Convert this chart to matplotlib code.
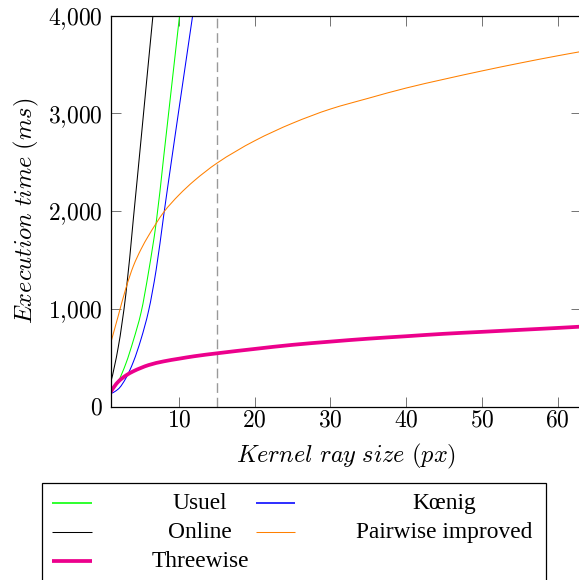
import matplotlib
matplotlib.use('Agg')
import numpy as np
import matplotlib.pyplot as plt
from matplotlib.lines import Line2D
from matplotlib.patches import Rectangle, PathPatch
from matplotlib.path import Path
from matplotlib.ticker import FuncFormatter, FixedLocator

plt.rcParams['mathtext.fontset'] = 'cm'
plt.rcParams['font.family'] = ['Liberation Serif', 'DejaVu Serif']

# ---- data ----
x_usuel = [1, 2, 3, 4, 5, 6, 7, 8, 9, 10, 11]
y_usuel = [153, 260, 440, 680, 960, 1380, 1880, 2560, 3250, 3940, 4630]

x_koenig = [1, 2, 3, 4, 5, 6, 7, 8, 9, 10, 11, 12]
y_koenig = [135, 180, 290, 460, 690, 980, 1400, 1960, 2505, 3040, 3570, 4100]

x_online = [1, 2, 3, 4, 5, 6, 7]
y_online = [250, 610, 1150, 1930, 2730, 3540, 4340]

x_pair = [1, 2, 3, 4, 5, 6, 7, 8, 10, 12, 15, 20, 25, 30, 35, 40, 45, 50, 55, 60, 63]
y_pair = [650, 930, 1210, 1440, 1610, 1750, 1875, 1990, 2165, 2310, 2490, 2720, 2900,
          3045, 3155, 3260, 3350, 3435, 3515, 3590, 3632]

x_three = [1, 2, 3, 4, 5, 6, 8, 10, 12, 15, 20, 25, 30, 35, 40, 45, 50, 55, 60, 63]
y_three = [150, 255, 318, 362, 396, 425, 463, 490, 515, 545, 590, 632, 665, 695,
           720, 745, 765, 785, 805, 818]

labels = ['Usuel', 'Online', 'Threewise', 'Kœnig', 'Pairwise improved']
x_ticks = [10, 20, 30, 40, 50, 60]
y_ticks = [0, 1000, 2000, 3000, 4000]
marker_x = 15

col_usuel = '#00FF00'
col_koenig = '#0000FF'
col_online = '#000000'
col_pair = '#FF8000'
col_three = '#EC008C'


def smooth_path(xs, ys):
    """Smooth (pgfplots-like) curve through the data points, as cubic Bezier segments."""
    x = np.asarray(xs, float)
    y = np.asarray(ys, float)
    h = np.diff(x)
    d = np.diff(y) / h
    n = len(x)
    m = np.zeros(n)
    for i in range(1, n - 1):
        if d[i - 1] * d[i] > 0:
            w1 = 2 * h[i] + h[i - 1]
            w2 = h[i] + 2 * h[i - 1]
            m[i] = (w1 + w2) / (w1 / d[i - 1] + w2 / d[i])
    if n > 2:
        m[0] = ((2 * h[0] + h[1]) * d[0] - h[0] * d[1]) / (h[0] + h[1])
        if m[0] * d[0] <= 0:
            m[0] = 0
        m[-1] = ((2 * h[-1] + h[-2]) * d[-1] - h[-1] * d[-2]) / (h[-1] + h[-2])
        if m[-1] * d[-1] <= 0:
            m[-1] = 0
    else:
        m[:] = d[0]
    verts = [(x[0], y[0])]
    codes = [Path.MOVETO]
    for i in range(n - 1):
        verts += [(x[i] + h[i] / 3, y[i] + m[i] * h[i] / 3),
                  (x[i + 1] - h[i] / 3, y[i + 1] - m[i + 1] * h[i] / 3),
                  (x[i + 1], y[i + 1])]
        codes += [Path.CURVE4] * 3
    return Path(verts, codes)


W, H = 579, 580
fig = plt.figure(figsize=(W / 100, H / 100), dpi=100)
L, R, T, B = 110.7, 580.5, 15.7, 406.6
ax = fig.add_axes([L / W, (H - B) / H, (R - L) / W, (B - T) / H])

lw_thin = 0.75
series = [
    (x_usuel, y_usuel, col_usuel, lw_thin),
    (x_online, y_online, col_online, lw_thin),
    (x_koenig, y_koenig, col_koenig, lw_thin),
    (x_pair, y_pair, col_pair, lw_thin),
    (x_three, y_three, col_three, 2.7),
]
for xs, ys, c, lw in series:
    ax.add_patch(PathPatch(smooth_path(xs, ys), fill=False, edgecolor=c, lw=lw,
                           capstyle='butt', joinstyle='round', zorder=2))
ax.axvline(marker_x, color='0.6', lw=1.0, ls=(0, (7, 3.5)), zorder=1)

ax.set_xlim(1, 63)
ax.set_ylim(0, 4000)
ax.xaxis.set_major_locator(FixedLocator(x_ticks))
ax.yaxis.set_major_locator(FixedLocator(y_ticks))
ax.xaxis.set_major_formatter(FuncFormatter(lambda v, _: r'$%d$' % v))
ax.yaxis.set_major_formatter(FuncFormatter(
    lambda v, _: r'$%s$' % format(int(round(v)), ',').replace(',', '{,}')))
ax.tick_params(axis='both', which='major', direction='in', top=True, right=True,
               length=7.2, width=0.7, color='0.45', labelsize=17)
ax.tick_params(axis='x', pad=3.0)
ax.tick_params(axis='y', pad=6.0)
for s in ax.spines.values():
    s.set_linewidth(0.9)
    s.set_color('black')

ax.set_xlabel(r'$Kernel\ ray\ size\ (px)$', fontsize=17.5, labelpad=7)
ax.set_ylabel(r'$Execution\ time\ (ms)$', fontsize=17.5, labelpad=5)

# ---- legend (pgfplots style: text centred in wide columns) ----
def fx(px):
    return px / W


def fy(py):
    return 1 - py / H


fig.add_artist(Rectangle((fx(42.3), fy(600)), fx(546) - fx(42.3), fy(483.3) - fy(600),
                         transform=fig.transFigure, fill=False, ec='black', lw=0.9))
rows = [502.7, 531.7, 560.7]
entries = [
    (51.7, 91.7, 200, rows[0], col_usuel, lw_thin + 0.4, labels[0]),
    (51.7, 91.7, 200, rows[1], col_online, lw_thin, labels[1]),
    (51.7, 91.7, 200, rows[2], col_three, 2.7, labels[2]),
    (256, 295, 444, rows[0], col_koenig, lw_thin + 0.4, labels[3]),
    (256, 295, 444, rows[1], col_pair, lw_thin, labels[4]),
]
for x0, x1, xc, ry, c, lw, lab in entries:
    fig.add_artist(Line2D([fx(x0), fx(x1)], [fy(ry), fy(ry)], transform=fig.transFigure,
                          color=c, lw=lw, solid_capstyle='butt'))
    fig.text(fx(xc), fy(ry + 1), lab, ha='center', va='center', fontsize=16.8,
             family=['Liberation Serif', 'DejaVu Serif'])

fig.savefig('out.png', dpi=100)
